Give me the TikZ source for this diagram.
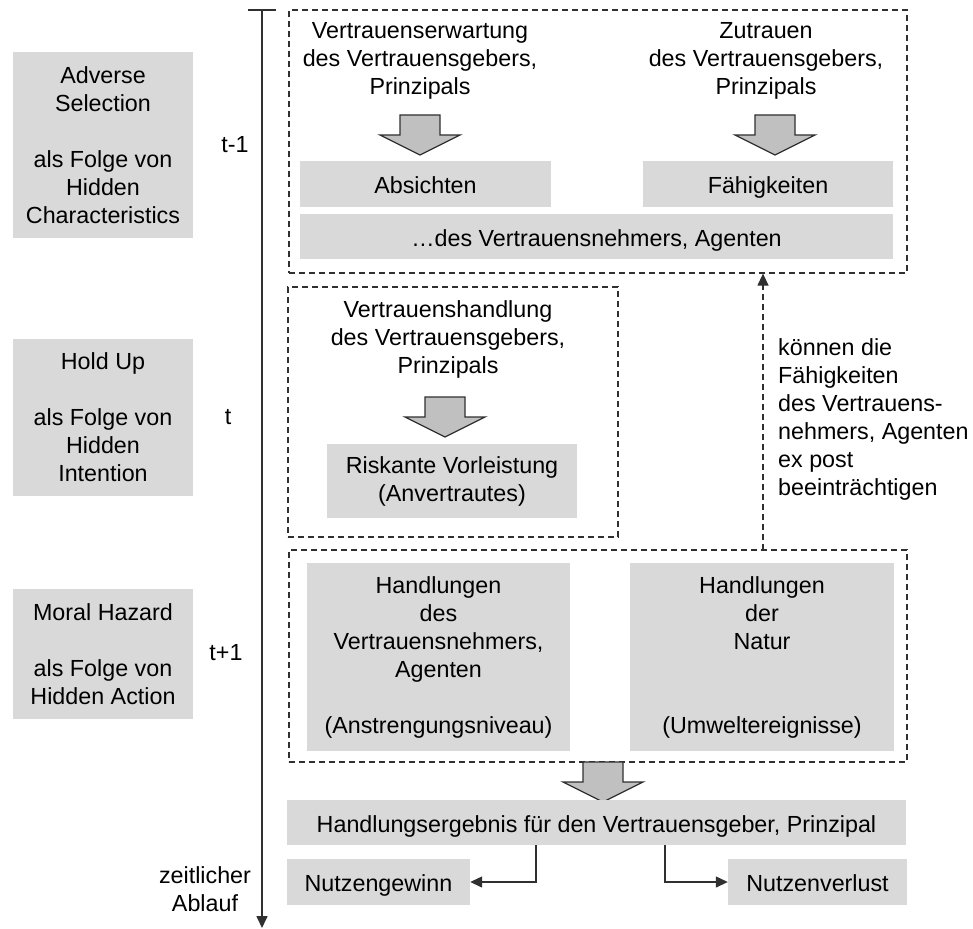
\documentclass[tikz,border=0pt]{standalone}
\usepackage{fontspec}
\setmainfont{Liberation Sans}
\usetikzlibrary{arrows.meta}
\definecolor{boxgray}{HTML}{D9D9D9}
\definecolor{arrowgray}{HTML}{C0C0C0}
\definecolor{linegray}{HTML}{303030}
\tikzset{
  every node/.style={font=\fontsize{23.3}{28}\selectfont, inner sep=0pt, text=black},
  graybox/.style={fill=boxgray, align=center},
  oneline/.style={text height=19pt, text depth=0pt},
  dashbox/.style={draw=linegray, line width=1.2pt, dash pattern=on 6pt off 4pt},
  plain/.style={align=center},
  timeline/.style={draw=linegray, line width=1.6pt},
  tip/.style={-{Triangle[length=12pt,width=11pt]}},
  blockarrow/.style={draw=linegray, fill=arrowgray, line width=1.3pt, line join=miter},
  pics/downarrow/.style={code={
    \path[blockarrow] (-20,0) -- (20,0) -- (20,20) -- (40,20) -- (0,40)
      -- (-40,20) -- (-20,20) -- cycle;}}
}
\begin{document}
\begin{tikzpicture}[x=1pt,y=-1pt]
\useasboundingbox (0,0) rectangle (973,928);

% time axis
\coordinate (tickL) at (248,10);
\coordinate (tickR) at (276,10);
\coordinate (tltop) at (262,10);
\coordinate (tlbot) at (262,928);
\draw[timeline] (tickL) -- (tickR);
\draw[timeline, tip] (tltop) -- (tlbot);
\node[plain] (tm1) at (235,145) {t-1};
\node[plain] (t0) at (228,417) {t};
\node[plain] (tp1) at (226,653) {t+1};
\node[plain] (zeit) at (205,889) {zeitlicher\\Ablauf};

% information problems
\node[graybox, minimum width=180, minimum height=186] (adverse) at (103,145)
  {Adverse\\Selection\\[28pt]als Folge von\\Hidden\\Characteristics};
\node[graybox, minimum width=180, minimum height=157] (holdup) at (103,417.5)
  {Hold Up\\[28pt]als Folge von\\Hidden\\Intention};
\node[graybox, minimum width=180, minimum height=130] (moral) at (103,654)
  {Moral Hazard\\[28pt]als Folge von\\Hidden Action};

% frames
\node[dashbox, minimum width=618, minimum height=263] (topframe) at (598,141.5) {};
\node[dashbox, minimum width=330, minimum height=250] (midframe) at (453,412) {};
\node[dashbox, minimum width=618, minimum height=212] (botframe) at (598,656) {};

% period t-1
\node[plain] (erw) at (420,61) {Vertrauenserwartung\\des Vertrauensgebers,\\Prinzipals};
\node[plain] (zutr) at (766,61) {Zutrauen\\des Vertrauensgebers,\\Prinzipals};
\pic at (420,115) {downarrow};
\pic at (775,115) {downarrow};
\node[graybox, oneline, minimum width=251, minimum height=46] (absicht) at (425.5,184) {Absichten};
\node[graybox, oneline, minimum width=250, minimum height=46] (faehig) at (768,184) {Fähigkeiten};
\node[graybox, oneline, minimum width=593, minimum height=45] (nehmer) at (596.5,236.5)
  {\dots des Vertrauensnehmers, Agenten};

% period t
\node[plain] (handl) at (448,339) {Vertrauenshandlung\\des Vertrauensgebers,\\Prinzipals};
\pic at (445,397) {downarrow};
\node[graybox, minimum width=250, minimum height=74] (risk) at (452,481)
  {Riskante Vorleistung\\(Anvertrautes)};

% feedback to t-1
\coordinate (kstart) at (763,550);
\draw[draw=linegray, line width=1.2pt, dash pattern=on 6pt off 4pt, tip]
  (kstart) -- (kstart |- topframe.south);
\node[anchor=west, align=left] (koennen) at (778,419)
  {können die\\Fähigkeiten\\des Vertrauens-\\nehmers, Agenten\\ex post\\beeinträchtigen};

% period t+1
\node[graybox, minimum width=263, minimum height=188] (hagent) at (438.5,657)
  {Handlungen\\des\\Vertrauensnehmers,\\Agenten\\[28pt](Anstrengungsniveau)};
\node[graybox, minimum width=264, minimum height=188] (hnatur) at (762,657)
  {Handlungen\\der\\Natur\\[56pt](Umweltereignisse)};
\pic at (603,762) {downarrow};

% outcome
\node[graybox, oneline, minimum width=619, minimum height=45] (result) at (596.5,822.5)
  {Handlungsergebnis für den Vertrauensgeber, Prinzipal};
\node[graybox, oneline, minimum width=183, minimum height=46] (gewinn) at (378.5,882) {Nutzengewinn};
\node[graybox, oneline, minimum width=179, minimum height=46] (verlust) at (817.5,882) {Nutzenverlust};
\coordinate (gsplit) at (536,845);
\coordinate (vsplit) at (665,845);
\draw[draw=linegray, line width=1.3pt, tip] (gsplit) |- (gewinn.east);
\draw[draw=linegray, line width=1.3pt, tip] (vsplit) |- (verlust.west);
\end{tikzpicture}
\end{document}
